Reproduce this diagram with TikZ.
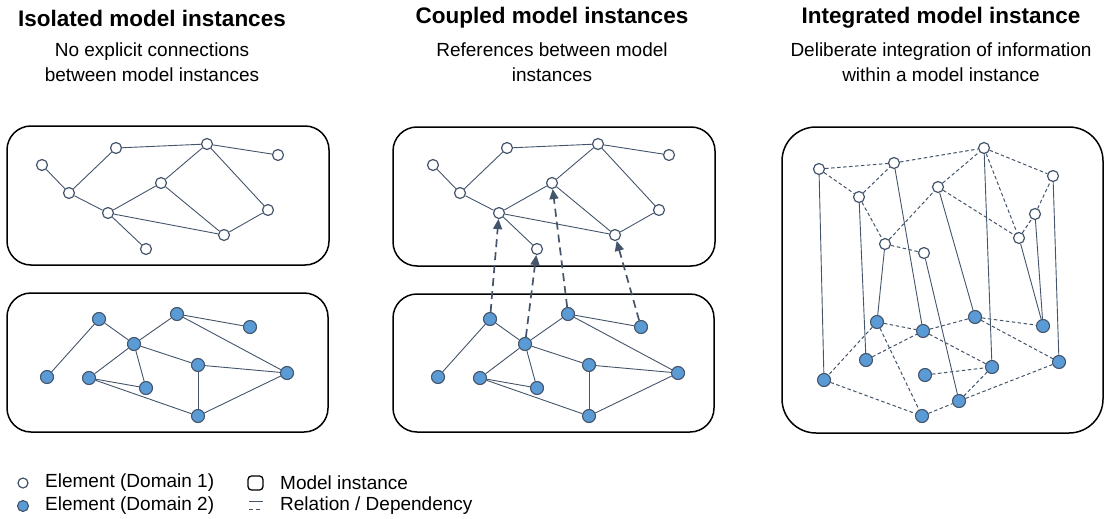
\documentclass[tikz,border=0pt]{standalone}
\usepackage{fontspec}
\setmainfont{Liberation Sans}
\usetikzlibrary{arrows.meta}
\definecolor{slate}{HTML}{44546A}
\definecolor{elblue}{HTML}{5B9BD5}
\tikzset{
	dom1/.style={circle,draw=slate,fill=white,line width=1.2pt,inner sep=0pt,minimum size=11pt},
	dom2/.style={circle,draw=slate,fill=elblue,line width=1.1pt,inner sep=0pt,minimum size=13pt},
	rel/.style={slate,line width=0.9pt},
	dep/.style={slate,line width=1pt,dash pattern=on 3.5pt off 2.5pt},
	ref/.style={slate,line width=1.7pt,dash pattern=on 8pt off 5pt,-{Triangle[length=10pt,width=9pt]}},
	instbox/.style={line width=1.5pt,rounded corners=24pt},
	head/.style={font=\bfseries\fontsize{22.5}{27}\selectfont},
	sub/.style={align=center,font=\fontsize{19}{25}\selectfont},
	legtext/.style={anchor=west,inner sep=0pt,font=\fontsize{19}{23}\selectfont},
}

\begin{document}
\begin{tikzpicture}[x=1pt,y=-1pt]
	\useasboundingbox (0,0) rectangle (1108,519);
	\node[head] (isohead) at (152,18) {Isolated model instances};
	\node[head] (cplhead) at (552,18) {Coupled model instances};
	\node[head] (inthead) at (941,18) {Integrated model instance};
	\node[sub] (isosub) at (152,62) {No explicit connections\\between model instances};
	\node[sub] (cplsub) at (552,62) {References between model\\instances};
	\node[sub] (intsub) at (941,62) {Deliberate integration of information\\within a model instance};

	\draw[instbox] (7,126) rectangle (329,265);
	\draw[instbox] (7,293) rectangle (328,432);
	\draw[instbox] (393,127) rectangle (715,266);
	\draw[instbox] (393,294) rectangle (714,432);
	\draw[instbox,rounded corners=34pt] (782,127) rectangle (1103,433);

	\foreach \s/\p in {0/iso,391/cpl} {
		\begin{scope}[xshift=\s]
		\foreach \n/\x/\y in {A/42/165,B/116/148,C/207/144,D/278/155,E/69/193,F/161/183,G/108/213,H/268/210,I/224/235,J/146/249}
			\node[dom1] (\p-\n) at (\x,\y) {};
		\foreach \n/\x/\y in {a/99/319,b/177/314,c/250/327,d/134/344,e/47/377,f/89/378,g/146/388,h/198/365,i/287/373,j/198/416}
			\node[dom2] (\p-\n) at (\x,\y) {};
		\end{scope}
		\foreach \u/\v in {A/E,E/B,B/C,C/D,E/G,G/F,F/C,C/H,H/I,F/I,G/I,G/J}
			\draw[rel] (\p-\u) -- (\p-\v);
		\foreach \u/\v in {a/e,a/d,d/b,b/c,b/i,d/f,d/g,f/g,d/h,h/i,h/j,f/j,j/i}
			\draw[rel] (\p-\u) -- (\p-\v);
	}
	\foreach \u/\v in {a/G,d/J,b/F,c/I}
		\draw[ref] (cpl-\u) -- (cpl-\v);

	\foreach \n/\x/\y in {t1/819/169,t2/894/163,t3/984/148,t4/1053/176,t5/859/197,t6/938/187,t7/1035/214,t8/1019/238,t9/885/244,t10/924/253}
		\node[dom1] (int-\n) at (\x,\y) {};
	\foreach \n/\x/\y in {b1/877/322,b2/975/317,b3/923/331,b4/1043/326,b5/866/360,b6/1059/362,b7/992/367,b8/925/375,b9/824/380,b10/959/401,b11/922/416}
		\node[dom2] (int-\n) at (\x,\y) {};
	\foreach \u/\v in {t1/b9,t5/b5,t9/b1,t2/b3,t10/b10,t6/b2,t3/b7,t8/b4,t7/b4,t4/b6}
		\draw[rel] (int-\u) -- (int-\v);
	\foreach \u/\v in {t1/t2,t2/t3,t3/t4,t1/t5,t5/t2,t5/t9,t9/t6,t6/t3,t6/t8,t3/t8,t8/t7,t7/t4,t9/t10,
		b1/b3,b3/b2,b2/b4,b1/b9,b5/b3,b1/b11,b3/b7,b2/b6,b8/b7,b7/b10,b9/b11,b11/b10,b10/b6}
		\draw[dep] (int-\u) -- (int-\v);

	\node[dom1,minimum size=10pt] (leg1) at (23,483) {};
	\node[dom2,minimum size=11pt] (leg2) at (23,506) {};
	\node[legtext] (leg1text) at (45,483) {Element (Domain 1)};
	\node[legtext] (leg2text) at (45,506) {Element (Domain 2)};
	\draw[line width=1.3pt,rounded corners=3.5pt] (248,476) rectangle (263,490);
	\draw[rel] (249,501) -- (263,501);
	\draw[dep,dash pattern=on 4pt off 3pt] (249,509) -- (263,509);
	\node[legtext] (leg3text) at (280,483) {Model instance};
	\node[legtext] (leg4text) at (280,506) {Relation / Dependency};
\end{tikzpicture}
\end{document}
